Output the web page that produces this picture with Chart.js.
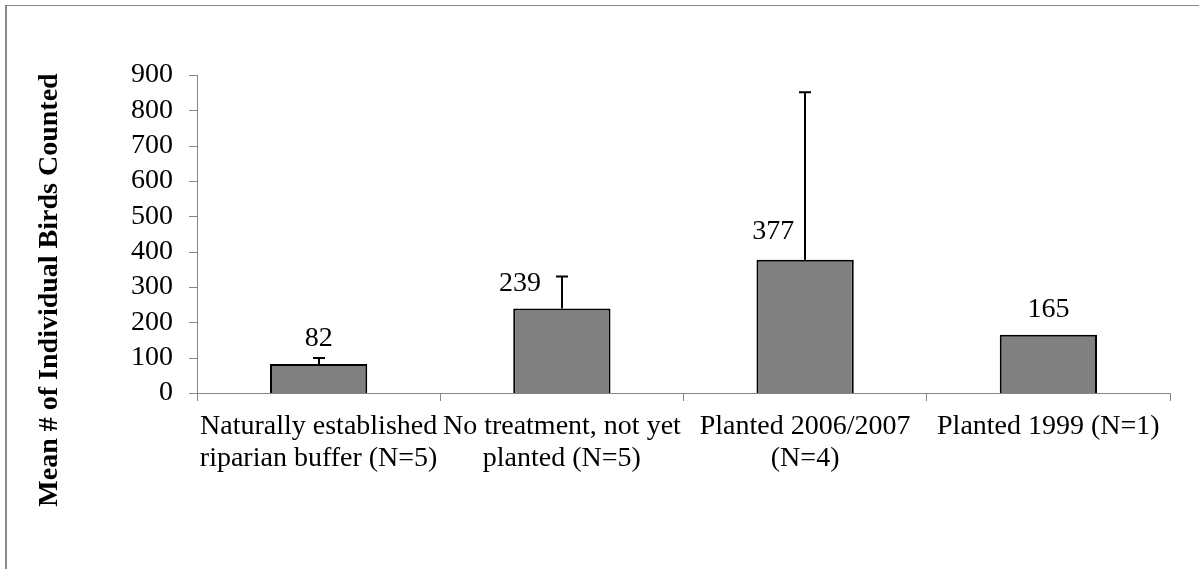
<!DOCTYPE html>
<html>
<head>
<meta charset="utf-8">
<script src="https://cdn.jsdelivr.net/npm/chart.js@4/dist/chart.umd.min.js"></script>
<style>
  html, body { margin: 0; padding: 0; background: #fff; }
  canvas { display: block; }
</style>
</head>
<body>
<canvas id="birds_chart" width="1199" height="569"></canvas>
<script>
// data
const categories = [
    ['Naturally established', 'riparian buffer (N=5)'],
    ['No treatment, not yet', 'planted (N=5)'],
    ['Planted 2006/2007', '(N=4)'],
    ['Planted 1999 (N=1)']
];
const meanBirds = [82, 239, 377, 165];
const errorPlus = [17, 91, 474, 0];   // upper error bar length
const yTicks = [0, 100, 200, 300, 400, 500, 600, 700, 800, 900];
const yTitle = 'Mean # of Individual Birds Counted';

const serif = '"Liberation Serif", "Times New Roman", serif';
const axisGray = '#868686';

// plus-only error bars with a small cap
const errorBars = {
    id: 'errorBars',
    afterDatasetsDraw(chart) {
        const ctx = chart.ctx;
        const meta = chart.getDatasetMeta(0);
        const y = chart.scales.y;
        ctx.save();
        ctx.strokeStyle = '#000';
        ctx.lineWidth = 2;
        meta.data.forEach((bar, i) => {
            if (!errorPlus[i]) return;
            const x = Math.round(bar.x);
            const top = y.getPixelForValue(meanBirds[i] + errorPlus[i]);
            ctx.beginPath();
            ctx.moveTo(x, bar.y);
            ctx.lineTo(x, top);
            ctx.moveTo(x - 6, top);
            ctx.lineTo(x + 6, top);
            ctx.stroke();
        });
        ctx.restore();
    }
};

// value labels above the bars (two nudged left of their error bars)
const valueLabels = {
    id: 'valueLabels',
    afterDatasetsDraw(chart, args, opts) {
        const ctx = chart.ctx;
        const meta = chart.getDatasetMeta(0);
        ctx.save();
        ctx.font = '28px ' + serif;
        ctx.fillStyle = '#000';
        ctx.textAlign = 'center';
        ctx.textBaseline = 'alphabetic';
        meta.data.forEach((bar, i) => {
            ctx.fillText(String(meanBirds[i]), bar.x + opts.dx[i], bar.y - 18 + opts.dy[i]);
        });
        ctx.restore();
    }
};

// small outward tick marks on the value axis
const yTickMarks = {
    id: 'yTickMarks',
    afterDraw(chart) {
        const ctx = chart.ctx;
        const y = chart.scales.y;
        const left = chart.chartArea.left;
        ctx.save();
        ctx.strokeStyle = axisGray;
        ctx.lineWidth = 1;
        ctx.beginPath();
        yTicks.forEach(v => {
            const py = Math.round(y.getPixelForValue(v)) + 0.5;
            ctx.moveTo(left - 8, py);
            ctx.lineTo(left, py);
        });
        ctx.stroke();
        ctx.restore();
    }
};

// outer frame and the rotated axis title
const frameAndTitle = {
    id: 'frameAndTitle',
    afterDraw(chart) {
        const ctx = chart.ctx;
        ctx.save();
        ctx.fillStyle = '#888';
        ctx.fillRect(5, 5, 1194, 1);
        ctx.fillRect(5, 5, 2, 564);
        ctx.translate(50, 290);
        ctx.rotate(-Math.PI / 2);
        ctx.font = 'bold 28px ' + serif;
        ctx.fillStyle = '#000';
        ctx.textAlign = 'center';
        ctx.textBaseline = 'middle';
        ctx.fillText(yTitle, 0, 0);
        ctx.restore();
    }
};

new Chart(document.getElementById('birds_chart'), {
    type: 'bar',
    data: {
        labels: categories,
        datasets: [{
            data: meanBirds,
            backgroundColor: '#808080',
            borderColor: '#000',
            borderWidth: 2,
            borderSkipped: 'bottom',
            barPercentage: 0.4,
            categoryPercentage: 1
        }]
    },
    options: {
        responsive: false,
        animation: false,
        devicePixelRatio: 1,
        layout: { padding: { left: 0, top: 75, right: 29, bottom: 0 } },
        plugins: {
            legend: { display: false },
            tooltip: { enabled: false },
            valueLabels: { dx: [0, -42, -32, 0], dy: [0, 0, -3, 0] }
        },
        scales: {
            x: {
                offset: true,
                grid: { offset: true, drawOnChartArea: false, tickLength: 8, color: axisGray },
                border: { color: axisGray, width: 1 },
                ticks: {
                    color: '#000',
                    padding: 10,
                    maxRotation: 0,
                    autoSkip: false,
                    font: { family: serif, size: 28, lineHeight: 1.13 }
                },
                afterFit(scale) { scale.height = 176; }
            },
            y: {
                min: 0,
                max: 900,
                afterBuildTicks(scale) { scale.ticks = yTicks.map(v => ({ value: v })); },
                grid: { display: false },
                border: { display: true, color: axisGray, width: 1 },
                ticks: {
                    color: '#000',
                    padding: 16,
                    autoSkip: false,
                    font: { family: serif, size: 28 }
                },
                afterFit(scale) { scale.width = 197; }
            }
        }
    },
    plugins: [errorBars, valueLabels, yTickMarks, frameAndTitle]
});
</script>
</body>
</html>
